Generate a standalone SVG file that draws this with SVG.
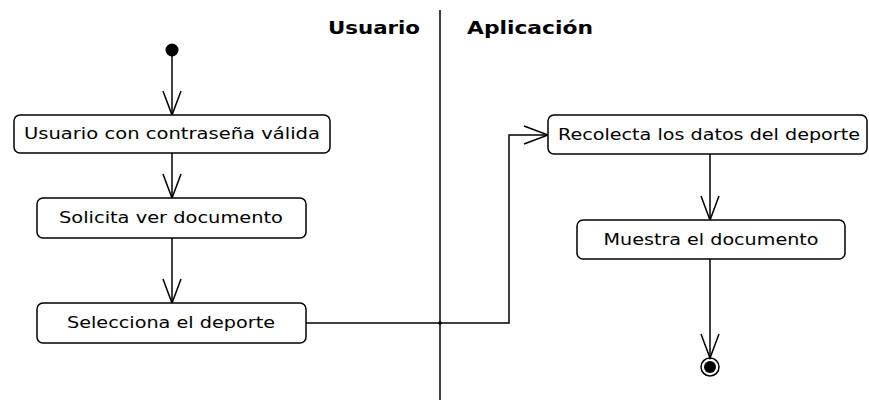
<svg xmlns="http://www.w3.org/2000/svg" width="869" height="402" viewBox="0 0 869 402">
<style>
.node rect{fill:#fff;stroke:#000;stroke-width:1.5}
.node text{font-family:"DejaVu Sans",sans-serif;font-size:15px;fill:#000;text-anchor:middle}
.lane{font-family:"DejaVu Sans",sans-serif;font-size:17px;font-weight:bold;fill:#000}
.conn path{fill:none;stroke:#000;stroke-width:1.5}
</style>
<defs>
<marker id="open" markerUnits="userSpaceOnUse" markerWidth="30" markerHeight="24" viewBox="-26 -12 30 24" refX="0" refY="0" orient="auto">
<path d="M-24,-9 L0,0 L-24,9" fill="none" stroke="#000" stroke-width="1.5"/>
</marker>
</defs>
<g id="lanes">
<line x1="440" y1="10" x2="440" y2="400" stroke="#000" stroke-width="1.5"/>
<text class="lane" x="328" y="34" textLength="92" lengthAdjust="spacingAndGlyphs">Usuario</text>
<text class="lane" x="467" y="34" textLength="126" lengthAdjust="spacingAndGlyphs">Aplicación</text>
</g>
<g id="start"><circle cx="172" cy="50" r="6.5" fill="#000"/></g>
<g id="end"><circle cx="710" cy="367" r="9" fill="#fff" stroke="#000" stroke-width="1.5"/><circle cx="710" cy="367" r="6" fill="#000"/></g>
<g class="conn" id="connectors">
<path d="M172,56 L172,115" marker-end="url(#open)"/>
<path d="M172,153 L172,198" marker-end="url(#open)"/>
<path d="M172,238 L172,303" marker-end="url(#open)"/>
<path d="M306,323 L509,323 L509,135 L548,135" marker-end="url(#open)"/>
<path d="M710,154 L710,220" marker-end="url(#open)"/>
<path d="M710,259 L710,358" marker-end="url(#open)"/>
<circle cx="440" cy="323" r="1.8" fill="#000"/>
</g>
<g class="node" id="n1"><rect x="14" y="115" width="316" height="38" rx="6"/><text x="172" y="139" textLength="296" lengthAdjust="spacingAndGlyphs">Usuario con contraseña válida</text></g>
<g class="node" id="n2"><rect x="37" y="198" width="269" height="40" rx="6"/><text x="171" y="223" textLength="224" lengthAdjust="spacingAndGlyphs">Solicita ver documento</text></g>
<g class="node" id="n3"><rect x="37" y="303" width="269" height="40" rx="6"/><text x="171" y="328" textLength="208" lengthAdjust="spacingAndGlyphs">Selecciona el deporte</text></g>
<g class="node" id="n4"><rect x="548" y="115" width="319" height="39" rx="6"/><text x="709" y="140" textLength="302" lengthAdjust="spacingAndGlyphs">Recolecta los datos del deporte</text></g>
<g class="node" id="n5"><rect x="577" y="220" width="268" height="39" rx="6"/><text x="711" y="245" textLength="215" lengthAdjust="spacingAndGlyphs">Muestra el documento</text></g>
</svg>
